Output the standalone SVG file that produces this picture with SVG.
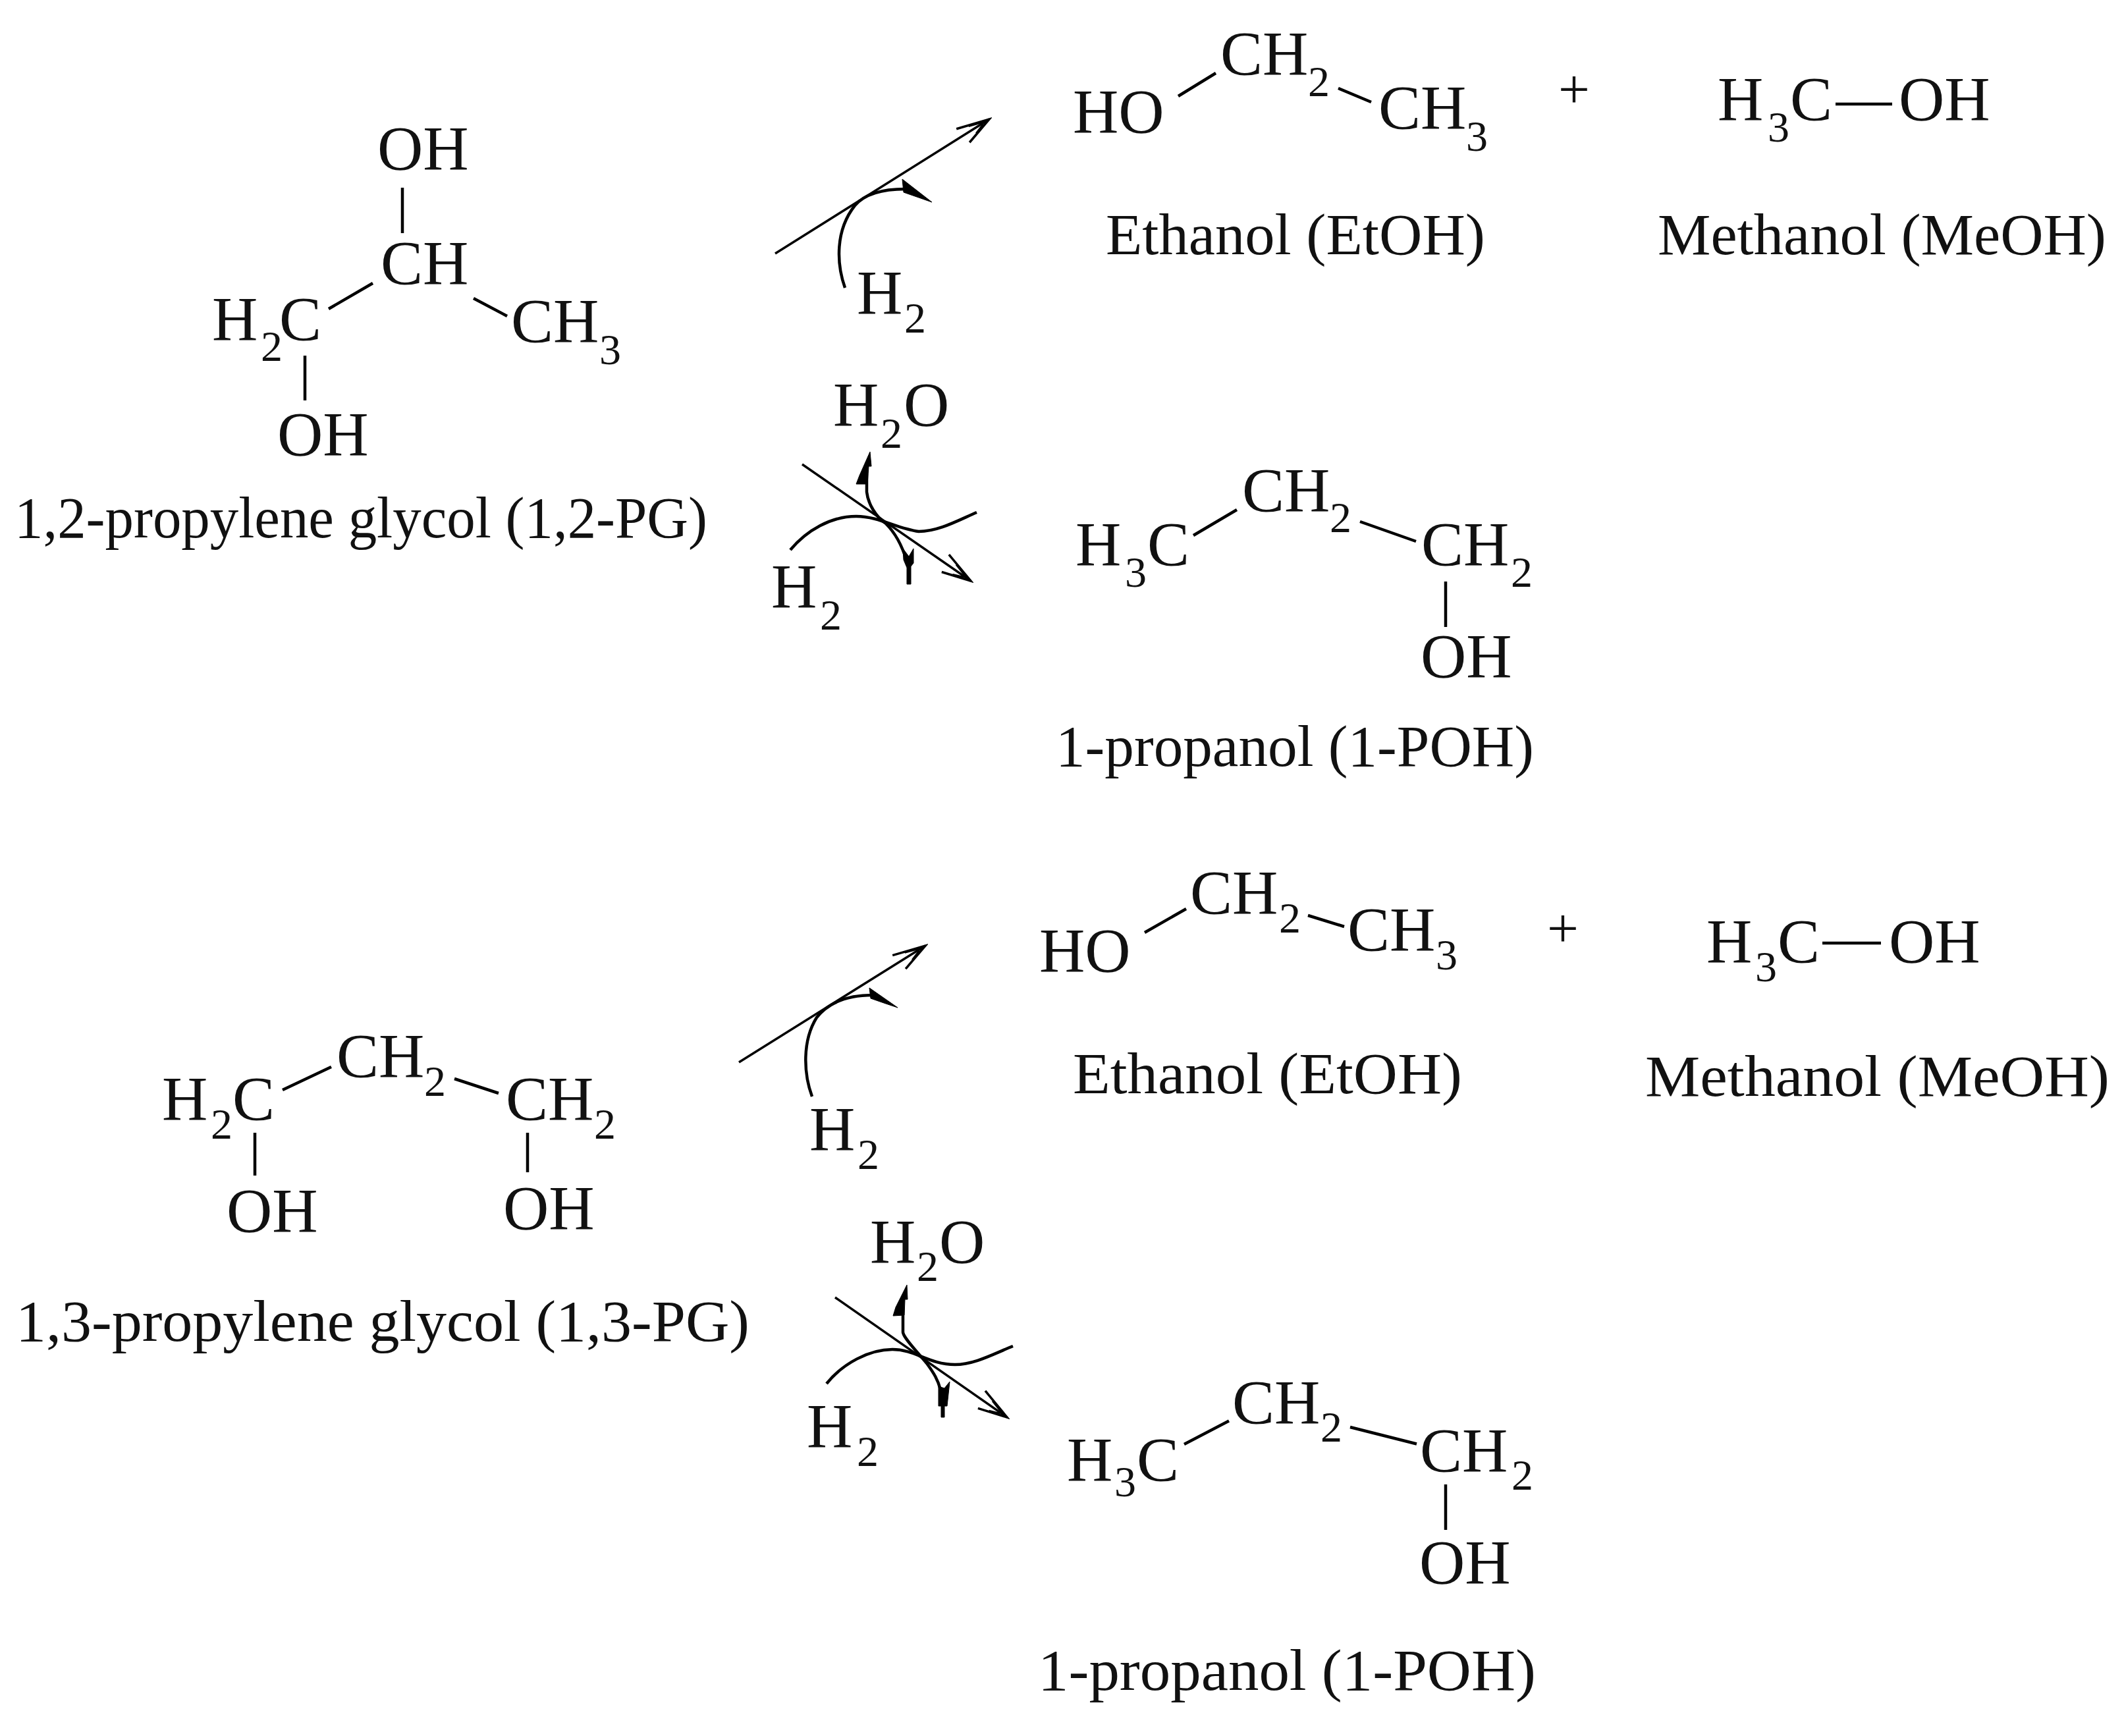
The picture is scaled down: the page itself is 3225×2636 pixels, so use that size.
<svg xmlns="http://www.w3.org/2000/svg" width="3225" height="2636" viewBox="0 0 3225 2636">
<style>
text{font-family:"Liberation Serif","Times New Roman",serif;fill:#111}
.f{font-size:96px}
.s{font-size:66px}
.l{font-size:88px}
.p{font-size:85px;text-anchor:middle}
.b{stroke:#000;stroke-width:4.5;fill:none}
.r{stroke:#000;stroke-width:4.5;fill:none;stroke-linecap:butt}
.a{stroke:#000;stroke-width:3.5;fill:none;marker-end:url(#open)}
.h{fill:#000;stroke:#000;stroke-width:1}
</style>
<defs>
<marker id="open" markerUnits="userSpaceOnUse" viewBox="-55 -20 60 40" markerWidth="60" markerHeight="40" refX="0" refY="0" orient="auto">
<path d="M-50-14 L0 0 L-44 14 M-32-8 L-12-2 M-28 8 L-12 2" fill="none" stroke="#000" stroke-width="3.5"/>
</marker>
</defs>
<rect width="3225" height="2636" fill="#fff"/>

<g id="pg12">
<text class="f" x="573" y="258">OH</text>
<text class="f" x="578" y="432">CH</text>
<text class="f" x="322" y="517">H<tspan class="s" x="396" y="548">2</tspan><tspan x="424" y="517">C</tspan></text>
<text class="f" x="776" y="520">CH<tspan class="s" x="910" y="553">3</tspan></text>
<text class="f" x="421" y="692">OH</text>
<path class="b" d="M611 285V354M499 469L566 430M719 453L770 480M463 540V608"/>
<text class="l" x="22" y="816" textLength="1052" lengthAdjust="spacingAndGlyphs">1,2-propylene glycol (1,2-PG)</text>
</g>

<g id="etoh1">
<text class="f" x="1629" y="202">HO</text>
<text class="f" x="1853" y="114">CH<tspan class="s" x="1986" y="146">2</tspan></text>
<text class="f" x="2093" y="196">CH<tspan class="s" x="2226" y="229">3</tspan></text>
<path class="b" d="M1789 146L1846 111M2032 134L2082 155"/>
<text class="l" x="1679" y="386" textLength="576" lengthAdjust="spacingAndGlyphs">Ethanol (EtOH)</text>
</g>
<text id="plus1" class="p" x="2390" y="164">+</text>
<g id="meoh1">
<text class="f" x="2608" y="183">H<tspan class="s" x="2684" y="215">3</tspan><tspan x="2718" y="183">C</tspan></text>
<text class="f" x="2883" y="183">OH</text>
<path class="b" d="M2787 158H2873"/>
<text class="l" x="2517" y="386" textLength="681" lengthAdjust="spacingAndGlyphs">Methanol (MeOH)</text>
</g>

<g id="poh1">
<text class="f" x="1886" y="777">CH<tspan class="s" x="2019" y="808">2</tspan></text>
<text class="f" x="1633" y="859">H<tspan class="s" x="1708" y="891">3</tspan><tspan x="1742" y="859">C</tspan></text>
<text class="f" x="2158" y="859">CH<tspan class="s" x="2294" y="891">2</tspan></text>
<text class="f" x="2157" y="1029">OH</text>
<path class="b" d="M1812 813L1878 774M2065 792L2150 822M2195 883V952"/>
<text class="l" x="1603" y="1163" textLength="726" lengthAdjust="spacingAndGlyphs">1-propanol (1-POH)</text>
</g>

<g id="pg13">
<text class="f" x="511" y="1636">CH<tspan class="s" x="644" y="1664">2</tspan></text>
<text class="f" x="246" y="1701">H<tspan class="s" x="320" y="1729">2</tspan><tspan x="353" y="1701">C</tspan></text>
<text class="f" x="768" y="1701">CH<tspan class="s" x="902" y="1729">2</tspan></text>
<text class="f" x="344" y="1871">OH</text>
<text class="f" x="764" y="1867">OH</text>
<path class="b" d="M429 1655L503 1620M690 1638L757 1660M387 1720V1785M801 1720V1780"/>
<text class="l" x="24" y="2036" textLength="1114" lengthAdjust="spacingAndGlyphs">1,3-propylene glycol (1,3-PG)</text>
</g>

<g id="etoh2">
<text class="f" x="1578" y="1476">HO</text>
<text class="f" x="1807" y="1388">CH<tspan class="s" x="1942" y="1416">2</tspan></text>
<text class="f" x="2046" y="1444">CH<tspan class="s" x="2180" y="1472">3</tspan></text>
<path class="b" d="M1738 1416L1801 1380M1986 1390L2041 1407"/>
<text class="l" x="1629" y="1660" textLength="591" lengthAdjust="spacingAndGlyphs">Ethanol (EtOH)</text>
</g>
<text id="plus2" class="p" x="2373" y="1438">+</text>
<g id="meoh2">
<text class="f" x="2591" y="1462">H<tspan class="s" x="2665" y="1490">3</tspan><tspan x="2699" y="1462">C</tspan></text>
<text class="f" x="2868" y="1462">OH</text>
<path class="b" d="M2767 1432H2856"/>
<text class="l" x="2498" y="1664" textLength="705" lengthAdjust="spacingAndGlyphs">Methanol (MeOH)</text>
</g>

<g id="poh2">
<text class="f" x="1871" y="2162">CH<tspan class="s" x="2005" y="2189">2</tspan></text>
<text class="f" x="1620" y="2249">H<tspan class="s" x="1692" y="2272">3</tspan><tspan x="1726" y="2249">C</tspan></text>
<text class="f" x="2156" y="2235">CH<tspan class="s" x="2295" y="2262">2</tspan></text>
<text class="f" x="2155" y="2405">OH</text>
<path class="b" d="M1798 2193L1866 2157.5M2050 2167L2151 2192.5M2195 2254V2323"/>
<text class="l" x="1576" y="2566" textLength="756" lengthAdjust="spacingAndGlyphs">1-propanol (1-POH)</text>
</g>

<g id="reagents">
<text class="f" x="1301" y="477">H<tspan class="s" x="1373" y="505">2</tspan></text>
<text class="f" x="1265" y="647">H<tspan class="s" x="1337" y="680">2</tspan><tspan x="1372" y="647">O</tspan></text>
<text class="f" x="1171" y="923">H<tspan class="s" x="1245" y="956">2</tspan></text>
<text class="f" x="1229" y="1747">H<tspan class="s" x="1302" y="1775">2</tspan></text>
<text class="f" x="1321" y="1918">H<tspan class="s" x="1392" y="1945">2</tspan><tspan x="1426" y="1918">O</tspan></text>
<text class="f" x="1225" y="2198">H<tspan class="s" x="1301" y="2226">2</tspan></text>
</g>

<g id="connectors">
<path class="a" d="M1177 385L1502 181"/>
<path class="r" d="M1283 437C1270 400 1268 350 1298 312C1315 292 1345 287 1375 287"/>
<polygon class="h" points="1370,272 1415,307 1395,300 1372,292"/>

<path class="a" d="M1218 705L1474 882"/>
<path class="r" d="M1200 835C1225 805 1262 784 1300 784C1335 784 1362 803 1395 807C1425 807 1455 790 1483 778"/>
<path class="r" d="M1316 720V747C1318 765 1330 785 1345 795C1360 810 1370 830 1376 850"/>
<polygon class="h" points="1321,686 1323,708 1319,708 1317,735 1300,735 1305,722"/>
<polygon class="h" points="1377,887 1383,887 1383,860 1387,855 1387,833 1380,845 1371,833 1372,850 1377,862"/>

<path class="a" d="M1122 1613L1405 1436"/>
<path class="r" d="M1233 1665C1220 1630 1218 1580 1240 1545C1260 1520 1290 1511 1325 1511"/>
<polygon class="h" points="1320,1500 1363,1530 1345,1524 1322,1516"/>

<path class="a" d="M1268 1970L1529 2152"/>
<path class="r" d="M1255 2101C1280 2070 1320 2049 1355 2049C1390 2049 1410 2072 1450 2072C1480 2072 1510 2055 1538 2044"/>
<path class="r" d="M1371 1985V2023C1372 2032 1395 2055 1407 2070C1418 2085 1424 2095 1428 2110"/>
<polygon class="h" points="1377,1951 1378,1973 1374,1973 1373,1997 1356,1998 1360,1985"/>
<polygon class="h" points="1429,2152 1434,2152 1434,2135 1438,2135 1442,2098 1434,2108 1425,2105 1425,2135 1429,2135"/>
</g>
</svg>
